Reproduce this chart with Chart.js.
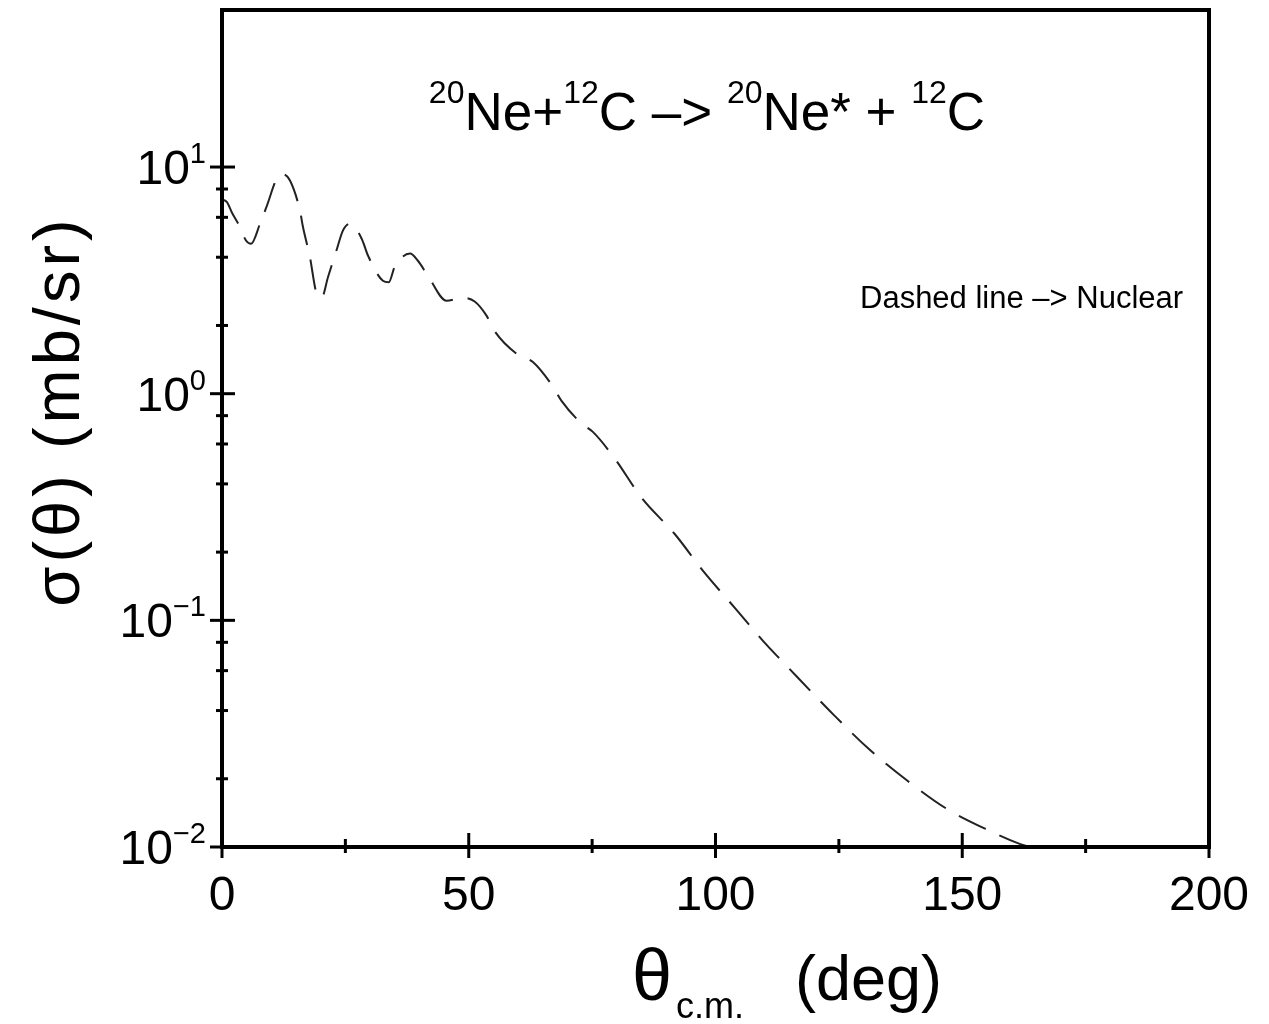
<!DOCTYPE html>
<html>
<head>
<meta charset="utf-8">
<title>20Ne + 12C inelastic cross section</title>
<script src="https://cdn.jsdelivr.net/npm/chart.js@4.4.1/dist/chart.umd.min.js"></script>
<style>
  html, body { margin: 0; padding: 0; background: #fff; }
  canvas { display: block; }
</style>
</head>
<body>
<canvas id="xsec" width="1269" height="1024"></canvas>
<script>
// angular distribution, nuclear part only (dashed curve)
const angleDeg = [0, 1, 2, 3.4, 4.9, 5.9, 7.7, 9.1, 11.1, 12.3, 13.8, 15.8, 16.4, 17.8, 19.2, 20.2,
  21.5, 23.3, 24.5, 25.9, 28.3, 29.6, 32.6, 33.8, 35.0, 38.1, 39.7, 41.7, 45.5, 48.8, 51.2, 53.6,
  55.3, 59.7, 63.0, 66.8, 68.8, 72.9, 75.1, 79.6, 85.0, 91.7, 97.6, 104.0, 110.5, 113.0, 124.1,
  131.2, 138.9, 146.8, 155.5, 161.5, 165];
const sigmaMbSr = [7.2, 7.0, 6.3, 5.56, 4.73, 4.59, 5.62, 6.75, 8.88, 9.3, 8.7, 6.42, 5.45, 4.02, 2.76, 2.66,
  3.28, 4.36, 5.24, 5.62, 4.83, 4.06, 3.15, 3.1, 3.63, 4.15, 3.86, 3.32, 2.57, 2.65, 2.55, 2.21,
  1.88, 1.50, 1.38, 1.095, 0.93, 0.737, 0.68, 0.517, 0.348, 0.241, 0.164, 0.113, 0.0773, 0.0678, 0.038,
  0.0269, 0.0196, 0.01477, 0.0118, 0.01035, 0.0098];

// axis ticks
const xMajorTicks = [0, 50, 100, 150, 200];
const xMinorTicks = [25, 75, 125, 175];
const yDecadeExp = [-2, -1, 0, 1];
const yMinorMantissa = [2, 4, 6, 8];

const FONT = '"Liberation Sans", Arial, sans-serif';

// draw a run of text pieces (normal / sup / sub) starting at x
function drawRich(ctx, parts, x, y, align) {
    let total = 0;
    parts.forEach(p => {
        ctx.font = p.size + 'px ' + FONT;
        p.w = ctx.measureText(p.t).width;
        total += p.w;
    });
    let cx = x;
    if (align === 'center') cx = x - total / 2;
    if (align === 'right') cx = x - total;
    ctx.textAlign = 'left';
    ctx.textBaseline = 'alphabetic';
    parts.forEach(p => {
        ctx.font = p.size + 'px ' + FONT;
        ctx.fillText(p.t, cx, y + (p.dy || 0));
        cx += p.w;
    });
}

const framePlugin = {
    id: 'framePlugin',
    afterDraw(chart) {
        const { ctx, chartArea, scales } = chart;
        const { left, right, top, bottom } = chartArea;
        const xs = scales.x, ys = scales.y;
        ctx.save();
        ctx.fillStyle = '#000';
        ctx.strokeStyle = '#000';

        // box
        ctx.lineWidth = 4;
        ctx.strokeRect(left, top, right - left, bottom - top);

        // x ticks (cross the axis)
        ctx.lineWidth = 3;
        xMajorTicks.forEach(v => {
            const px = xs.getPixelForValue(v);
            ctx.beginPath(); ctx.moveTo(px, bottom - 14); ctx.lineTo(px, bottom + 11); ctx.stroke();
        });
        xMinorTicks.forEach(v => {
            const px = xs.getPixelForValue(v);
            ctx.beginPath(); ctx.moveTo(px, bottom - 8); ctx.lineTo(px, bottom + 6); ctx.stroke();
        });

        // y ticks
        yDecadeExp.forEach(e => {
            const py = ys.getPixelForValue(Math.pow(10, e));
            ctx.beginPath(); ctx.moveTo(left - 12, py); ctx.lineTo(left + 13, py); ctx.stroke();
            if (e < 1) {
                yMinorMantissa.forEach(m => {
                    const pm = ys.getPixelForValue(m * Math.pow(10, e));
                    ctx.beginPath(); ctx.moveTo(left - 6, pm); ctx.lineTo(left + 6, pm); ctx.stroke();
                });
            }
        });

        // x tick labels
        ctx.font = '48px ' + FONT;
        ctx.textAlign = 'center';
        ctx.textBaseline = 'alphabetic';
        xMajorTicks.forEach(v => {
            ctx.fillText(String(v), xs.getPixelForValue(v), bottom + 63);
        });

        // y tick labels 10^n
        yDecadeExp.forEach(e => {
            const py = ys.getPixelForValue(Math.pow(10, e));
            const sup = e < 0 ? '\u2212' + (-e) : String(e);
            drawRich(ctx, [
                { t: '10', size: 48 },
                { t: sup, size: 29, dy: -21 }
            ], left - 16, py + 17, 'right');
        });

        // axis titles
        drawRich(ctx, [{ t: '\u03B8', size: 72 }], 632, 1000, 'left');
        drawRich(ctx, [{ t: 'c.m.', size: 36 }], 676, 1018, 'left');
        drawRich(ctx, [{ t: '(deg)', size: 63 }], 795, 1000, 'left');

        ctx.save();
        ctx.translate(79, 411);
        ctx.rotate(-Math.PI / 2);
        ctx.letterSpacing = '4px';
        drawRich(ctx, [{ t: '\u03C3(\u03B8) (mb/sr)', size: 65 }], 0, 0, 'center');
        ctx.restore();

        // reaction
        drawRich(ctx, [
            { t: '20', size: 32, dy: -27 },
            { t: 'Ne+', size: 53 },
            { t: '12', size: 32, dy: -27 },
            { t: 'C \u2013> ', size: 53 },
            { t: '20', size: 32, dy: -27 },
            { t: 'Ne* + ', size: 53 },
            { t: '12', size: 32, dy: -27 },
            { t: 'C', size: 53 }
        ], 707, 130, 'center');

        drawRich(ctx, [{ t: 'Dashed line \u2013> Nuclear', size: 31 }], 860, 308, 'left');

        ctx.restore();
    }
};

const points = angleDeg.map((a, i) => ({ x: a, y: sigmaMbSr[i] }));

new Chart(document.getElementById('xsec'), {
    type: 'line',
    data: {
        datasets: [{
            label: 'Nuclear',
            data: points,
            borderColor: '#222',
            borderWidth: 2,
            borderDash: [30, 15],
            pointRadius: 0,
            cubicInterpolationMode: 'monotone',
            fill: false
        }]
    },
    options: {
        responsive: false,
        animation: false,
        layout: { padding: { left: 222, right: 60, top: 10, bottom: 177 } },
        plugins: {
            legend: { display: false },
            tooltip: { enabled: false }
        },
        scales: {
            x: { type: 'linear', min: 0, max: 200, display: false },
            y: { type: 'logarithmic', min: 0.01, max: 49.3, display: false }
        }
    },
    plugins: [framePlugin]
});
</script>
</body>
</html>
